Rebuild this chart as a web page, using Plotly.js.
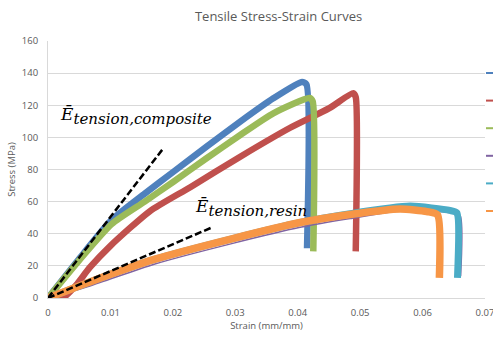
<!DOCTYPE html>
<html><head><meta charset="utf-8">
<script src="https://cdn.plot.ly/plotly-3.0.1.min.js"></script>
<style>html,body{margin:0;padding:0;background:#fff}#chart{width:493px;height:337px}</style>
</head><body><div id="chart"></div>
<script>
// ---- data ----
const seriesNames = ['Composite 1', 'Composite 2', 'Composite 3', 'Resin 1', 'Resin 2', 'Resin 3'];
const seriesColors = ['#4F81BD', '#C0504D', '#9BBB59', '#8064A2', '#4BACC6', '#F79646'];

const comp1Strain = [0, 0.0049, 0.0102, 0.0155, 0.0201, 0.0254, 0.0308, 0.0361, 0.0407, 0.0414, 0.0415];
const comp1Stress = [0, 24, 48.6, 65, 78.6, 94.2, 109.8, 124.3, 134.5, 133, 31];

const comp2Strain = [0, 0.0025, 0.0045, 0.0067, 0.01, 0.0163, 0.0228, 0.0308, 0.0388, 0.045, 0.0489, 0.0493, 0.0493];
const comp2Stress = [0, 0.5, 8, 19, 32.5, 54, 69, 88, 106, 118, 127.5, 125, 29];

const comp3Strain = [0, 0.0049, 0.0102, 0.0155, 0.0201, 0.0254, 0.0308, 0.0361, 0.0419, 0.0424, 0.0425];
const comp3Stress = [0, 23, 46, 60, 72.4, 87, 101.5, 115, 124.5, 122.5, 29];

const resin1Strain = [0, 0.0067, 0.017, 0.0296, 0.0404, 0.0484, 0.058, 0.0644, 0.066, 0.0661];
const resin1Stress = [0, 7.5, 21, 34, 44, 49.5, 55, 53, 51.5, 13.5];

const resin2Strain = [0, 0.0067, 0.017, 0.0296, 0.0404, 0.0484, 0.058, 0.0644, 0.0655, 0.0656];
const resin2Stress = [0, 10, 24, 37, 47, 52.5, 57.2, 54.5, 53, 12.5];

const resin3Strain = [0, 0.0067, 0.017, 0.0296, 0.0404, 0.0484, 0.0564, 0.0607, 0.0624, 0.0627];
const resin3Stress = [0, 10, 24, 37, 47, 52, 55.4, 53.8, 51.8, 12.5];

const compModX = [0, 0.0184];
const compModY = [0, 92.8];
const resinModX = [0, 0.0263];
const resinModY = [0, 44];

const xTicks = [0, 0.01, 0.02, 0.03, 0.04, 0.05, 0.06, 0.07];
const xTickText = ['0', '0.01', '0.02', '0.03', '0.04', '0.05', '0.06', '0.07'];
const yTicks = [0, 20, 40, 60, 80, 100, 120, 140, 160];

// ---- traces ----
const xs = [comp1Strain, comp2Strain, comp3Strain, resin1Strain, resin2Strain, resin3Strain];
const ys = [comp1Stress, comp2Stress, comp3Stress, resin1Stress, resin2Stress, resin3Stress];
const widths = [6.5, 6.5, 6.5, 1.5, 7, 7.5];

const traces = xs.map((x, i) => ({
  x: x, y: ys[i], name: seriesNames[i], type: 'scatter', mode: 'lines',
  line: {color: seriesColors[i], width: widths[i], shape: 'spline', smoothing: 0.6},
  showlegend: false, hoverinfo: 'skip'
}));
traces.push({x: compModX, y: compModY, type: 'scatter', mode: 'lines',
  line: {color: '#000000', width: 2.5, dash: '7px,3px'}, showlegend: false, hoverinfo: 'skip'});
traces.push({x: resinModX, y: resinModY, type: 'scatter', mode: 'lines',
  line: {color: '#000000', width: 2.5, dash: '7px,3px'}, showlegend: false, hoverinfo: 'skip'});

// legend stubs (legend is cut off at the right edge in the reference)
const shapes = seriesColors.map((c, i) => ({
  type: 'line', xref: 'paper', yref: 'paper',
  x0: 1.0023, x1: 1.05, y0: 0.8755 - i * 0.1074, y1: 0.8755 - i * 0.1074,
  line: {color: c, width: 2}
}));

const grey = '#595959';
const layout = {
  width: 493, height: 337,
  margin: {l: 48, r: 8, t: 41, b: 39, pad: 0},
  paper_bgcolor: '#ffffff', plot_bgcolor: '#ffffff',
  title: {text: 'Tensile Stress-Strain Curves', x: 0.565, xref: 'container', xanchor: 'center',
    y: 0.95, yref: 'container', yanchor: 'middle',
    font: {family: 'Open Sans', size: 13, color: grey}},
  xaxis: {range: [0, 0.07001], tickvals: xTicks, ticktext: xTickText,
    showgrid: false, zeroline: false, showline: true, linecolor: '#D9D9D9', linewidth: 1,
    ticks: '', ticklabelstandoff: 6, ticklabeloverflow: 'allow',
    tickfont: {family: 'Open Sans', size: 9.5, color: grey},
    title: {text: 'Strain (mm/mm)', font: {family: 'Open Sans', size: 9.5, color: grey}, standoff: 3},
    fixedrange: true},
  yaxis: {range: [0, 160], tickvals: yTicks,
    showgrid: true, gridcolor: '#D9D9D9', gridwidth: 1, zeroline: false,
    showline: true, linecolor: '#D9D9D9', linewidth: 1,
    ticks: '', ticklabelstandoff: 7,
    tickfont: {family: 'Open Sans', size: 9.5, color: grey},
    title: {text: 'Stress (MPa)', font: {family: 'Open Sans', size: 9.5, color: grey}, standoff: 4},
    fixedrange: true},
  shapes: shapes,
  annotations: [
    {xref: 'x', yref: 'y', x: 0.0016, y: 113, xanchor: 'left', yanchor: 'middle', showarrow: false,
     text: 'Ē<sub><span style="font-size:15px">tension,composite</span></sub>',
     font: {family: 'DejaVu Serif', size: 17, color: '#000000', style: 'italic'}},
    {xref: 'x', yref: 'y', x: 0.0232, y: 56, xanchor: 'left', yanchor: 'middle', showarrow: false,
     text: 'Ē<sub><span style="font-size:15px">tension,resin</span></sub>',
     font: {family: 'DejaVu Serif', size: 17, color: '#000000', style: 'italic'}}
  ],
  showlegend: false
};

Plotly.newPlot('chart', traces, layout, {staticPlot: true, displayModeBar: false});
</script>
</body></html>
